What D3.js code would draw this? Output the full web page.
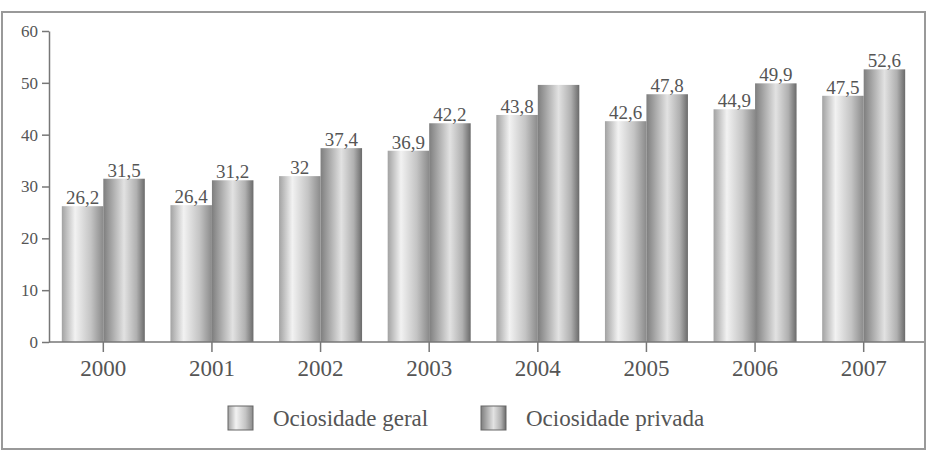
<!DOCTYPE html>
<html>
<head>
<meta charset="utf-8">
<script src="https://cdn.jsdelivr.net/npm/d3@7/dist/d3.min.js"></script>
<style>
  body { margin: 0; background: #fff; }
</style>
</head>
<body>
<div id="chart"></div>
<script>
const years = ["2000", "2001", "2002", "2003", "2004", "2005", "2006", "2007"];
const seriesNames = ["Ociosidade geral", "Ociosidade privada"];
const geral = [26.2, 26.4, 32, 36.9, 43.8, 42.6, 44.9, 47.5];
const privada = [31.5, 31.2, 37.4, 42.2, 49.6, 47.8, 49.9, 52.6];
// the 2004 privada bar carries no label in the original
const geralLabels = ["26,2", "26,4", "32", "36,9", "43,8", "42,6", "44,9", "47,5"];
const privadaLabels = ["31,5", "31,2", "37,4", "42,2", "", "47,8", "49,9", "52,6"];
const yTicks = [0, 10, 20, 30, 40, 50, 60];

const width = 936, height = 451;
const plotLeft = 49, plotRight = 918, plotTop = 31, plotBottom = 342;
const serif = "'Liberation Serif', 'DejaVu Serif', serif";
const textColor = "#555";

const svg = d3.select("#chart").append("svg")
    .attr("width", width)
    .attr("height", height);

// frame
svg.append("rect")
    .attr("x", 2).attr("y", 12)
    .attr("width", 923).attr("height", 437)
    .attr("fill", "none")
    .attr("stroke", "#999")
    .attr("stroke-width", 2);

const defs = svg.append("defs");
const gradStops = [
    [[0, "#a2a2a2"], [0.32, "#f2f2f2"], [0.7, "#c4c4c4"], [1, "#8a8a8a"]],
    [[0, "#7e7e7e"], [0.5, "#e2e2e2"], [0.8, "#b0b0b0"], [1, "#6a6a6a"]]
];
gradStops.forEach((stops, i) => {
    const g = defs.append("linearGradient")
        .attr("id", "grad" + i)
        .attr("x1", "0%").attr("x2", "100%")
        .attr("y1", "0%").attr("y2", "0%");
    stops.forEach(s => g.append("stop").attr("offset", s[0]).attr("stop-color", s[1]));
});

const x0 = d3.scaleBand()
    .domain(years)
    .range([plotLeft, plotRight])
    .paddingInner(0.236)
    .paddingOuter(0.118);

const x1 = d3.scaleBand()
    .domain(seriesNames)
    .range([0, x0.bandwidth()]);

const y = d3.scaleLinear()
    .domain([0, 60])
    .range([plotBottom, plotTop]);

const rows = years.map((yr, i) => ({
    year: yr,
    values: [
        { key: seriesNames[0], value: geral[i], label: geralLabels[i], idx: 0 },
        { key: seriesNames[1], value: privada[i], label: privadaLabels[i], idx: 1 }
    ]
}));

const groups = svg.selectAll(".year")
    .data(rows)
    .enter()
    .append("g")
    .attr("class", "year")
    .attr("transform", d => `translate(${x0(d.year)},0)`);

groups.selectAll("rect")
    .data(d => d.values)
    .enter()
    .append("rect")
    .attr("x", d => x1(d.key))
    .attr("y", d => y(d.value))
    .attr("width", x1.bandwidth())
    .attr("height", d => y(0) - y(d.value))
    .attr("fill", d => `url(#grad${d.idx})`);

groups.selectAll(".val")
    .data(d => d.values)
    .enter()
    .append("text")
    .attr("class", "val")
    .attr("x", d => x1(d.key) + x1.bandwidth() / 2)
    .attr("y", d => y(d.value) - 2)
    .attr("text-anchor", "middle")
    .attr("fill", textColor)
    .style("font-family", serif)
    .style("font-size", "19px")
    .text(d => d.label);

// y axis
const yAxis = svg.append("g")
    .attr("transform", `translate(${plotLeft},0)`)
    .call(d3.axisLeft(y).tickValues(yTicks).tickSize(7).tickSizeOuter(0).tickPadding(4));
yAxis.selectAll("path, line").attr("stroke", "#777").attr("stroke-width", 1.5);
yAxis.selectAll("text")
    .attr("fill", textColor)
    .style("font-family", serif)
    .style("font-size", "17px");

// x axis
const xAxis = svg.append("g")
    .attr("transform", `translate(0,${plotBottom})`)
    .call(d3.axisBottom(x0).tickSize(10).tickSizeOuter(0).tickPadding(8));
xAxis.select(".domain").remove();
xAxis.append("line")
    .attr("x1", plotLeft).attr("x2", 924)
    .attr("y1", 0).attr("y2", 0);
xAxis.selectAll("line").attr("stroke", "#777").attr("stroke-width", 1.5);
xAxis.selectAll("text")
    .attr("fill", textColor)
    .style("font-family", serif)
    .style("font-size", "23px");

// legend
const legendX = [228, 481];
const legend = svg.selectAll(".legend")
    .data(seriesNames)
    .enter()
    .append("g")
    .attr("class", "legend")
    .attr("transform", (d, i) => `translate(${legendX[i]},406)`);

legend.append("rect")
    .attr("width", 25)
    .attr("height", 24)
    .attr("fill", (d, i) => `url(#grad${i})`)
    .attr("stroke", "#666")
    .attr("stroke-width", 1);

legend.append("text")
    .attr("x", 45)
    .attr("y", 20)
    .attr("fill", textColor)
    .style("font-family", serif)
    .style("font-size", "23px")
    .text(d => d);
</script>
</body>
</html>
